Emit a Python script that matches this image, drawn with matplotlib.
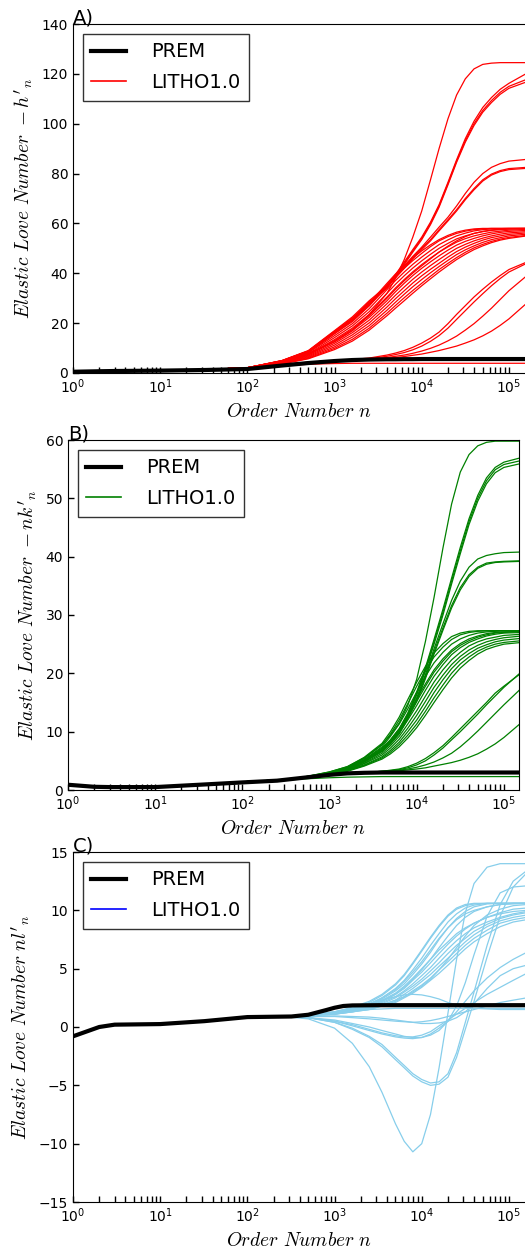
import matplotlib
matplotlib.use('Agg')
import matplotlib.pyplot as plt
from matplotlib.lines import Line2D

plt.rcParams['mathtext.fontset'] = 'cm'
plt.rcParams['font.family'] = 'DejaVu Sans'

# order numbers: low part shared by all models, high part per model
n_low = [1, 2, 3, 10, 32, 100]
n_hi = [250, 500, 1000, 1600, 2500, 4000, 5000, 6300, 7900, 10000, 12600, 15800,
        20000, 25100, 31600, 39800, 50100, 63100, 79400, 100000, 160000]
n_hi_c = [250, 500, 1000, 1600, 2500, 3500, 5000, 6300, 7900, 10000, 12600, 15800,
          20000, 25100, 31600, 39800, 56200, 79400, 112000, 160000]
n_prem_c = [1, 2, 3, 10, 32, 100, 320, 500, 800, 1000, 1260, 1600, 3200, 10000, 160000]

# ---- A) -h'_n
prem_a = [0.5, 0.7, 0.8, 0.95, 1.2, 1.6,
          3.0, 4.0, 4.8, 5.2, 5.4, 5.5, 5.5, 5.55, 5.55, 5.6, 5.6, 5.6, 5.6, 5.6,
          5.6, 5.6, 5.6, 5.6, 5.6, 5.6, 5.6]
litho_low_a = [0.6, 0.8, 0.9, 1.05, 1.35, 2.1]
litho_a = [
    [4.6, 7.8, 12.5, 17, 23.5, 32, 38, 45.5, 54.5, 65, 77.5, 90, 102, 111.5, 118, 122, 123.8, 124.3, 124.5, 124.5, 124.5],
    [5.0, 9.0, 17.0, 22.5, 29, 35, 39.5, 44.5, 49.5, 54.5, 60.5, 67.5, 76.5, 85.5, 94, 101, 106.5, 110.5, 113.8, 116.2, 120.2],
    [4.9, 8.8, 16.8, 22, 28.5, 34.5, 39, 44, 49, 54, 60, 67, 76, 85, 93.2, 100, 105.3, 109.3, 112.6, 115, 117.8],
    [4.9, 8.7, 16.5, 21.8, 28.2, 34, 38.5, 43.5, 48.5, 53.5, 59.5, 66.5, 75.5, 84.5, 92.6, 99.3, 104.6, 108.5, 111.8, 114.2, 116.8],
    [4.8, 8.6, 16.2, 21.5, 27.8, 35.5, 39, 43, 46.8, 50.5, 54.5, 58.5, 62.5, 67, 72, 76.5, 80, 82.5, 84, 85, 85.7],
    [4.7, 8.4, 16.0, 21.2, 27.4, 35, 38.6, 42.5, 46.3, 50, 53.5, 57.5, 61.5, 65.5, 70, 74, 77.5, 79.8, 81.2, 82, 82.5],
    [4.7, 8.3, 15.8, 21, 27, 34.5, 38.1, 42, 45.8, 49.5, 53, 57, 61, 65, 69.5, 73.5, 77, 79.4, 80.8, 81.6, 82.1],
    [5.0, 8.8, 16.5, 21.5, 28, 36, 39.7, 43, 46.2, 49, 51.4, 53.5, 55.2, 56.5, 57.3, 57.8, 58, 58, 58, 58, 58],
    [4.9, 8.5, 15.8, 20.6, 27, 35, 38.6, 42, 45.1, 48, 50.7, 53, 54.7, 56, 56.9, 57.5, 57.8, 58, 58, 58, 58],
    [4.7, 8.1, 15.0, 19.8, 25.8, 33.5, 37.1, 40.5, 43.6, 46.5, 49.1, 51.5, 53.4, 55, 56.1, 57, 57.5, 57.8, 57.9, 58, 58],
    [4.5, 7.7, 14.2, 18.9, 24.6, 32, 35.6, 39, 42.1, 45, 47.6, 50, 52, 53.8, 55, 56, 56.7, 57.2, 57.5, 57.7, 57.9],
    [4.4, 7.4, 13.4, 18, 23.5, 30.5, 34.1, 37.5, 40.6, 43.5, 46.1, 48.5, 50.6, 52.5, 53.9, 55, 55.8, 56.5, 56.9, 57.3, 57.6],
    [4.2, 7.1, 12.6, 17, 22.3, 29, 32.6, 36, 39.1, 42, 44.6, 47, 49.3, 51.3, 52.8, 54, 55, 55.8, 56.4, 56.8, 57.2],
    [4.1, 6.8, 11.9, 16.2, 21.2, 27.8, 31.2, 34.5, 37.6, 40.5, 43.1, 45.5, 47.9, 50, 51.6, 53, 54.1, 55, 55.7, 56.2, 56.7],
    [3.9, 6.5, 11.2, 15.3, 20.1, 26.5, 29.8, 33, 36.1, 39, 41.6, 44, 46.5, 48.7, 50.5, 52, 53.3, 54.3, 55, 55.6, 56.2],
    [3.8, 6.2, 10.5, 14.4, 19, 25.2, 28.4, 31.6, 34.6, 37.5, 40.2, 42.7, 45.2, 47.5, 49.4, 51, 52.4, 53.5, 54.3, 55, 55.7],
    [3.7, 5.9, 9.9, 13.5, 18, 24, 27.1, 30.2, 33.1, 36, 38.8, 41.5, 44, 46.3, 48.4, 50.2, 51.6, 52.8, 53.7, 54.4, 55.2],
    [3.6, 5.7, 9.4, 12.8, 17.2, 23, 26, 29, 32, 35, 37.8, 40.5, 43.1, 45.5, 47.6, 49.5, 51, 52.3, 53.3, 54, 55],
    [4.3, 7.5, 13.0, 17.5, 23, 30, 33.6, 37, 40.1, 43, 45.8, 48.5, 50.9, 53, 54.7, 56, 56.8, 57.4, 57.7, 57.9, 58],
    [3.4, 4.3, 5.0, 5.4, 6.0, 7.2, 8.0, 9.0, 10.3, 12, 14, 16.4, 19.8, 23.5, 27, 30.5, 33.6, 36.5, 39.1, 41.5, 44.5],
    [3.4, 4.3, 5.0, 5.3, 5.8, 6.7, 7.4, 8.2, 9.3, 10.8, 12.7, 15, 18, 21.5, 25, 28.5, 31.8, 35, 37.9, 40.5, 44],
    [3.4, 4.3, 4.9, 5.2, 5.6, 6.2, 6.7, 7.2, 7.9, 8.8, 9.9, 11.2, 12.9, 14.8, 17.2, 19.8, 22.8, 26, 29.5, 33, 39],
    [3.4, 4.2, 4.8, 5.1, 5.4, 5.9, 6.2, 6.6, 7.1, 7.6, 8.3, 9.0, 9.9, 10.8, 12, 13.3, 14.9, 16.8, 19.1, 21.7, 28],
    [3.0, 3.5, 3.8, 3.9, 3.9, 3.9, 3.9, 3.9, 3.9, 3.9, 3.9, 3.9, 3.9, 3.9, 3.9, 3.9, 3.9, 3.9, 3.9, 3.9, 3.9],
]

# ---- B) -nk'_n
prem_b = [0.9, 0.55, 0.5, 0.5, 0.9, 1.3,
          1.6, 2.1, 2.6, 2.85, 2.95, 3.0, 3.0, 3.0, 3.0, 3.0, 3.0, 3.0, 3.0, 3.0,
          3.0, 3.0, 3.0, 3.0, 3.0, 3.0, 3.0]
litho_low_b = [0.9, 0.55, 0.5, 0.55, 0.95, 1.4]
litho_b = [
    [1.7, 2.2, 3.1, 4.0, 5.5, 7.8, 9.4, 11.5, 14.5, 19, 25.5, 33, 41.5, 49, 54.5, 57.5, 59, 59.6, 59.8, 59.8, 59.8],
    [1.7, 2.1, 3.0, 3.8, 5.2, 7.2, 8.6, 10.5, 13.2, 16.8, 21, 25.8, 31, 36.3, 41.6, 46.5, 50.5, 53.5, 55.3, 56.2, 57.0],
    [1.7, 2.1, 3.0, 3.8, 5.1, 7.0, 8.4, 10.3, 13.0, 16.5, 20.7, 25.4, 30.5, 35.8, 41, 46, 50, 53, 54.9, 55.8, 56.5],
    [1.7, 2.1, 2.9, 3.7, 5.0, 6.9, 8.3, 10.1, 12.8, 16.3, 20.4, 25, 30, 35.3, 40.5, 45.5, 49.5, 52.5, 54.4, 55.3, 56.0],
    [1.7, 2.1, 2.9, 3.7, 5.0, 6.8, 8.2, 10.0, 12.6, 15.8, 19.8, 24.2, 28.5, 32.5, 35.8, 38.2, 39.6, 40.2, 40.5, 40.7, 40.8],
    [1.7, 2.1, 2.9, 3.6, 4.9, 6.7, 8.0, 9.8, 12.4, 15.5, 19.4, 23.7, 27.8, 31.6, 34.7, 36.9, 38.2, 38.9, 39.1, 39.2, 39.3],
    [1.7, 2.0, 2.8, 3.6, 4.8, 6.6, 7.9, 9.6, 12.2, 15.2, 19.1, 23.3, 27.4, 31.2, 34.3, 36.6, 38.0, 38.7, 39.0, 39.1, 39.2],
    [1.7, 2.2, 3.1, 4.0, 5.6, 8.0, 10.0, 12.5, 15.5, 18.5, 21.2, 23.5, 25.1, 26.3, 26.9, 27.2, 27.3, 27.3, 27.3, 27.3, 27.3],
    [1.7, 2.2, 3.0, 3.9, 5.4, 7.7, 9.6, 12.0, 14.8, 17.8, 20.5, 22.8, 24.5, 25.8, 26.6, 27.0, 27.2, 27.3, 27.3, 27.3, 27.3],
    [1.7, 2.1, 3.0, 3.8, 5.2, 7.4, 9.2, 11.3, 13.9, 16.8, 19.5, 21.8, 23.6, 25.0, 25.9, 26.5, 26.9, 27.1, 27.2, 27.3, 27.3],
    [1.7, 2.1, 2.9, 3.7, 5.0, 7.0, 8.6, 10.5, 12.9, 15.6, 18.2, 20.6, 22.5, 24.0, 25.1, 25.9, 26.4, 26.8, 27.0, 27.1, 27.2],
    [1.7, 2.1, 2.9, 3.6, 4.8, 6.6, 8.1, 9.8, 12.0, 14.5, 17.1, 19.5, 21.5, 23.2, 24.4, 25.3, 25.9, 26.4, 26.7, 26.9, 27.0],
    [1.7, 2.0, 2.8, 3.5, 4.6, 6.3, 7.6, 9.2, 11.3, 13.6, 16.1, 18.5, 20.6, 22.3, 23.6, 24.7, 25.4, 25.9, 26.2, 26.5, 26.7],
    [1.7, 2.0, 2.8, 3.4, 4.5, 6.0, 7.2, 8.7, 10.6, 12.8, 15.2, 17.6, 19.7, 21.5, 22.9, 24.0, 24.8, 25.4, 25.8, 26.1, 26.4],
    [1.7, 2.0, 2.7, 3.4, 4.3, 5.7, 6.8, 8.2, 10.0, 12.0, 14.3, 16.7, 18.9, 20.8, 22.3, 23.4, 24.3, 24.9, 25.4, 25.7, 26.0],
    [1.7, 2.0, 2.7, 3.3, 4.2, 5.5, 6.5, 7.8, 9.4, 11.3, 13.5, 15.8, 18.0, 20.0, 21.6, 22.8, 23.8, 24.5, 25.0, 25.3, 25.6],
    [1.7, 2.0, 2.6, 3.2, 4.1, 5.3, 6.2, 7.4, 8.9, 10.7, 12.8, 15.0, 17.2, 19.2, 20.9, 22.2, 23.3, 24.1, 24.6, 25.0, 25.3],
    [1.7, 2.1, 2.9, 3.7, 4.9, 6.8, 8.4, 10.2, 12.5, 15.2, 17.8, 20.2, 22.1, 23.7, 24.8, 25.6, 26.2, 26.6, 26.9, 27.0, 27.2],
    [1.6, 2.0, 2.5, 2.8, 3.0, 3.2, 3.3, 3.5, 3.8, 4.3, 5.0, 6.0, 7.2, 8.6, 10.0, 11.5, 13.0, 14.6, 16.1, 17.6, 20.3],
    [1.6, 2.0, 2.5, 2.8, 3.0, 3.2, 3.4, 3.6, 4.0, 4.6, 5.4, 6.4, 7.6, 9.0, 10.5, 12.0, 13.5, 15.0, 16.6, 17.8, 20.1],
    [1.6, 2.0, 2.5, 2.8, 3.0, 3.2, 3.3, 3.4, 3.6, 3.9, 4.3, 4.8, 5.5, 6.3, 7.4, 8.7, 10.1, 11.6, 13.1, 14.6, 17.5],
    [1.6, 2.0, 2.5, 2.8, 2.9, 3.1, 3.2, 3.3, 3.45, 3.6, 3.8, 4.1, 4.4, 4.7, 5.1, 5.6, 6.2, 7.0, 7.9, 9.0, 11.6],
    [1.6, 1.9, 2.1, 2.2, 2.25, 2.3, 2.3, 2.3, 2.3, 2.3, 2.3, 2.3, 2.3, 2.3, 2.3, 2.3, 2.3, 2.3, 2.3, 2.3, 2.3],
]

# ---- C) nl'_n
prem_c = [-0.8, 0.0, 0.2, 0.25, 0.5, 0.85, 0.9, 1.05, 1.45, 1.65, 1.8, 1.85, 1.87, 1.87, 1.87]
litho_low_c = [-0.8, 0.0, 0.2, 0.25, 0.5, 0.85]
litho_c = [
    [0.9, 0.7, -0.1, -1.4, -3.4, -5.6, -8.3, -9.8, -10.7, -10.0, -7.5, -3.5, 1.2, 5.8, 9.8, 12.3, 13.7, 14.0, 14.0, 14.0],
    [0.9, 0.8, 0.4, -0.2, -0.9, -1.7, -2.8, -3.5, -4.2, -4.7, -5.0, -4.9, -4.3, -2.6, -0.2, 2.2, 6.0, 9.5, 12.0, 13.2],
    [0.9, 0.8, 0.4, -0.1, -0.8, -1.5, -2.6, -3.3, -4.0, -4.5, -4.8, -4.7, -4.0, -2.2, 0.4, 3.0, 7.0, 10.5, 12.5, 13.4],
    [0.9, 0.8, 0.5, 0.1, -0.3, -0.6, -0.85, -0.95, -1.0, -0.9, -0.6, -0.1, 0.5, 1.3, 2.2, 3.1, 4.2, 5.1, 5.8, 6.4],
    [0.9, 0.8, 0.5, 0.2, -0.2, -0.5, -0.75, -0.85, -0.85, -0.7, -0.4, 0.1, 0.6, 1.1, 1.6, 2.1, 2.8, 3.4, 4.0, 4.6],
    [0.9, 0.8, 0.6, 0.3, 0.0, -0.3, -0.6, -0.8, -0.9, -0.9, -0.7, -0.3, 0.5, 1.8, 3.8, 6.2, 9.5, 11.5, 12.0, 12.1],
    [0.9, 1.0, 1.2, 1.5, 1.9, 2.3, 2.6, 2.75, 2.8, 2.75, 2.6, 2.4, 2.1, 1.9, 1.7, 1.6, 1.55, 1.5, 1.5, 1.5],
    [0.9, 1.0, 1.2, 1.4, 1.5, 1.55, 1.6, 1.6, 1.6, 1.6, 1.6, 1.6, 1.6, 1.6, 1.6, 1.6, 1.6, 1.6, 1.6, 1.6],
    [0.9, 0.9, 0.9, 0.8, 0.7, 0.6, 0.5, 0.45, 0.4, 0.45, 0.55, 0.7, 0.9, 1.1, 1.3, 1.5, 1.8, 2.1, 2.3, 2.5],
    [0.9, 0.95, 0.95, 0.9, 0.85, 0.75, 0.6, 0.5, 0.4, 0.3, 0.3, 0.35, 0.5, 0.8, 1.3, 2.0, 3.3, 4.4, 5.0, 5.3],
    [0.9, 1.0, 1.3, 1.6, 2.1, 2.7, 3.6, 4.4, 5.4, 6.5, 7.6, 8.6, 9.5, 10.1, 10.4, 10.55, 10.6, 10.6, 10.6, 10.6],
    [0.9, 1.0, 1.3, 1.6, 2.0, 2.5, 3.3, 4.0, 4.9, 5.9, 7.0, 8.0, 9.0, 9.7, 10.2, 10.45, 10.6, 10.6, 10.6, 10.6],
    [0.9, 1.0, 1.2, 1.5, 1.9, 2.4, 3.1, 3.7, 4.5, 5.4, 6.4, 7.5, 8.5, 9.3, 9.9, 10.3, 10.55, 10.6, 10.6, 10.6],
    [0.9, 1.0, 1.2, 1.5, 1.8, 2.2, 2.8, 3.4, 4.1, 4.9, 5.8, 6.8, 7.8, 8.7, 9.4, 9.9, 10.3, 10.5, 10.6, 10.6],
    [0.9, 1.0, 1.2, 1.4, 1.7, 2.1, 2.6, 3.1, 3.7, 4.4, 5.1, 5.9, 6.7, 7.4, 8.0, 8.5, 9.0, 9.4, 9.7, 9.9],
    [0.9, 1.0, 1.2, 1.4, 1.7, 2.0, 2.5, 3.0, 3.5, 4.1, 4.8, 5.5, 6.3, 7.0, 7.6, 8.2, 8.8, 9.3, 9.6, 9.8],
    [0.9, 1.0, 1.1, 1.3, 1.6, 1.9, 2.3, 2.8, 3.3, 3.9, 4.5, 5.2, 5.9, 6.6, 7.3, 7.9, 8.6, 9.1, 9.4, 9.6],
    [0.9, 1.0, 1.1, 1.3, 1.5, 1.8, 2.2, 2.6, 3.1, 3.6, 4.2, 4.9, 5.6, 6.3, 7.0, 7.6, 8.3, 8.9, 9.2, 9.4],
    [0.9, 1.0, 1.1, 1.3, 1.5, 1.8, 2.1, 2.5, 2.9, 3.4, 4.0, 4.6, 5.3, 6.0, 6.7, 7.3, 8.0, 8.6, 9.0, 9.2],
    [0.9, 1.0, 1.2, 1.5, 1.9, 2.3, 2.9, 3.5, 4.2, 5.0, 5.8, 6.6, 7.3, 8.0, 8.5, 8.9, 9.4, 9.8, 10.1, 10.2],
    [0.9, 1.0, 1.3, 1.7, 2.2, 2.8, 3.7, 4.5, 5.5, 6.6, 7.7, 8.7, 9.6, 10.2, 10.5, 10.6, 10.6, 10.6, 10.6, 10.6],
    [0.9, 1.0, 1.2, 1.5, 1.9, 2.5, 3.2, 3.9, 4.7, 5.6, 6.6, 7.6, 8.5, 9.2, 9.7, 10.0, 10.3, 10.5, 10.55, 10.6],
    [0.9, 1.0, 1.1, 1.4, 1.7, 2.2, 2.8, 3.3, 4.0, 4.7, 5.5, 6.3, 7.1, 7.8, 8.4, 8.9, 9.4, 9.7, 9.9, 10.0],
    [0.9, 1.0, 1.2, 1.4, 1.6, 1.9, 2.3, 2.6, 3.0, 3.5, 4.1, 4.9, 5.8, 6.8, 7.8, 8.7, 9.6, 10.1, 10.4, 10.5],
]

fig = plt.figure(figsize=(5.25, 12.5), dpi=100)


def panel(rect, xmax, prem_n, prem_v, low_v, hi_n, curves, color, leg_color,
          ylim, yticks, ylabel, tag):
    ax = fig.add_axes(rect)
    for c in curves:
        ax.plot(n_low + hi_n, low_v + c, color=color, lw=0.9)
    ax.plot(prem_n, prem_v, color='k', lw=3, zorder=5)
    ax.set_xscale('log')
    ax.set_xlim(1, xmax)
    ax.set_ylim(*ylim)
    ax.set_yticks(yticks)
    ax.tick_params(which='both', direction='in', top=False, right=False,
                   labelsize=10, width=1)
    ax.tick_params(which='major', length=4.5)
    ax.tick_params(which='minor', length=4)
    ax.set_xlabel(r'$Order\ Number\ n$', fontsize=14)
    ax.set_ylabel(ylabel, fontsize=14)
    handles = [Line2D([], [], color='k', lw=3), Line2D([], [], color=leg_color, lw=1.2)]
    leg = ax.legend(handles, ['PREM', 'LITHO1.0'], loc='upper left', fontsize=14,
                    fancybox=False, handlelength=1.8, handletextpad=1.25,
                    borderaxespad=0.5, borderpad=0.45, labelspacing=0.6)
    leg.get_frame().set_edgecolor('k')
    leg.get_frame().set_linewidth(1)
    ax.text(0.0, 0.99, tag, transform=ax.transAxes, fontsize=14,
            ha='left', va='bottom')
    return ax


panel([73 / 525, 1 - 373 / 1250, 453 / 525, 349 / 1250], 1.57e5,
      n_low + n_hi, prem_a, litho_low_a, n_hi, litho_a, 'r', 'r',
      (0, 140), range(0, 141, 20), r"$Elastic\ Love\ Number\ -h'_n$", 'A)')
panel([68 / 525, 1 - 790 / 1250, 451 / 525, 350 / 1250], 1.49e5,
      n_low + n_hi, prem_b, litho_low_b, n_hi, litho_b, 'g', 'g',
      (0, 60), range(0, 61, 10), r"$Elastic\ Love\ Number\ -nk'_n$", 'B)')
panel([73 / 525, 1 - 1202 / 1250, 453 / 525, 350 / 1250], 1.57e5,
      n_prem_c, prem_c, litho_low_c, n_hi_c, litho_c, 'skyblue', 'b',
      (-15, 15), range(-15, 16, 5), r"$Elastic\ Love\ Number\ nl'_n$", 'C)')

fig.savefig('out.png', dpi=100)
